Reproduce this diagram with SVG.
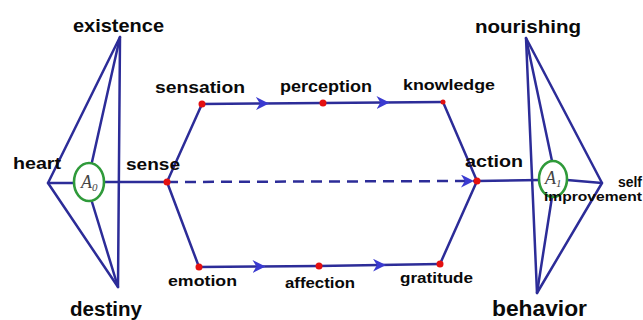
<svg xmlns="http://www.w3.org/2000/svg" width="643" height="320" viewBox="0 0 643 320">
<style>
.ln{stroke:#2c2c98;stroke-width:2.5;fill:none;stroke-linecap:round;stroke-linejoin:round}
.dash{stroke:#2c2c98;stroke-width:2.5;fill:none;stroke-dasharray:11 7}
.dot{fill:#e41010}
.ring{fill:#fff;stroke:#2f9a3a;stroke-width:2.6}
.lbl{font-family:"Liberation Sans",Arial,sans-serif;font-weight:bold;fill:#0a0a0a}
.a{font-family:"Liberation Serif","Times New Roman",serif;font-style:italic;fill:#444}
</style>
<defs>
<marker id="arr" viewBox="0 0 10 10" refX="5" refY="5" markerWidth="13" markerHeight="13" markerUnits="userSpaceOnUse" orient="auto">
<path d="M0,0 L10,5 L0,10 L3,5 z" fill="#3a3ad0"/>
</marker>
<marker id="arrEnd" viewBox="0 0 10 10" refX="10" refY="5" markerWidth="13" markerHeight="13" markerUnits="userSpaceOnUse" orient="auto">
<path d="M0,0 L10,5 L0,10 L3,5 z" fill="#3a3ad0"/>
</marker>
</defs>
<rect width="643" height="320" fill="#fff"/>
<g id="connectors">
<path class="ln" d="M120,37 L48,183 L118,287 Z"/>
<path class="ln" d="M120,37 L92,162"/>
<path class="ln" d="M118,287 L92,202"/>
<path class="ln" d="M48,183 L75,183"/>
<path class="ln" d="M104,182 L167,182"/>
<path class="ln" d="M167,182 L202,104"/>
<path class="ln" d="M202,104 L262.5,103.5 L323,103" marker-mid="url(#arr)"/>
<path class="ln" d="M323,103 L383,102.5 L443,102" marker-mid="url(#arr)"/>
<path class="ln" d="M443,102 L477,181"/>
<path class="ln" d="M167,182 L199,267"/>
<path class="ln" d="M199,267 L259,266.5 L319,266" marker-mid="url(#arr)"/>
<path class="ln" d="M319,266 L379.5,265 L440,264" marker-mid="url(#arr)"/>
<path class="ln" d="M440,264 L477,181"/>
<path class="dash" d="M167,182 L474,181" marker-end="url(#arrEnd)"/>
<path class="ln" d="M477,181 L540,180"/>
<path class="ln" d="M526,38 L537,293 L602,183 Z"/>
<path class="ln" d="M526,38 L552,161"/>
<path class="ln" d="M537,293 L552,197"/>
<path class="ln" d="M567,180 L602,183"/>
</g>
<g id="A0"><ellipse class="ring" cx="89" cy="182" rx="15" ry="19"/><text class="a" x="81" y="188" font-size="18">A<tspan font-size="11" dy="3">0</tspan></text></g>
<g id="A1"><ellipse class="ring" cx="553" cy="179" rx="14" ry="18"/><text class="a" x="545" y="184" font-size="18">A<tspan font-size="11" dy="3">1</tspan></text></g>
<g id="existence"><text class="lbl" x="73" y="32" font-size="19" textLength="91" lengthAdjust="spacingAndGlyphs">existence</text></g>
<g id="destiny"><text class="lbl" x="70" y="316" font-size="20" textLength="72" lengthAdjust="spacingAndGlyphs">destiny</text></g>
<g id="heart"><text class="lbl" x="13" y="169" font-size="16" textLength="48" lengthAdjust="spacingAndGlyphs">heart</text></g>
<g id="sense"><circle class="dot" cx="167" cy="182" r="3.5"/><text class="lbl" x="126" y="170" font-size="17" textLength="54" lengthAdjust="spacingAndGlyphs">sense</text></g>
<g id="sensation"><circle class="dot" cx="202" cy="104" r="3.5"/><text class="lbl" x="155" y="93" font-size="16" textLength="90" lengthAdjust="spacingAndGlyphs">sensation</text></g>
<g id="perception"><circle class="dot" cx="323" cy="103" r="3.5"/><text class="lbl" x="280" y="92" font-size="16" textLength="92" lengthAdjust="spacingAndGlyphs">perception</text></g>
<g id="knowledge"><circle class="dot" cx="443" cy="102" r="2.5"/><text class="lbl" x="403" y="90" font-size="15" textLength="92" lengthAdjust="spacingAndGlyphs">knowledge</text></g>
<g id="action"><circle class="dot" cx="477" cy="181" r="3.5"/><text class="lbl" x="465" y="167" font-size="17" textLength="58" lengthAdjust="spacingAndGlyphs">action</text></g>
<g id="emotion"><circle class="dot" cx="199" cy="267" r="3.5"/><text class="lbl" x="168" y="286" font-size="15" textLength="69" lengthAdjust="spacingAndGlyphs">emotion</text></g>
<g id="affection"><circle class="dot" cx="319" cy="266" r="3.5"/><text class="lbl" x="285" y="288" font-size="15" textLength="70" lengthAdjust="spacingAndGlyphs">affection</text></g>
<g id="gratitude"><circle class="dot" cx="440" cy="264" r="3.5"/><text class="lbl" x="400" y="283" font-size="15" textLength="73" lengthAdjust="spacingAndGlyphs">gratitude</text></g>
<g id="nourishing"><text class="lbl" x="475" y="33" font-size="19" textLength="106" lengthAdjust="spacingAndGlyphs">nourishing</text></g>
<g id="behavior"><text class="lbl" x="492" y="316" font-size="22" textLength="95" lengthAdjust="spacingAndGlyphs">behavior</text></g>
<g id="self-improvement"><text class="lbl" x="618" y="187" font-size="14" textLength="24" lengthAdjust="spacingAndGlyphs">self</text><text class="lbl" x="544" y="201" font-size="13" textLength="98" lengthAdjust="spacingAndGlyphs">improvement</text></g>
</svg>
